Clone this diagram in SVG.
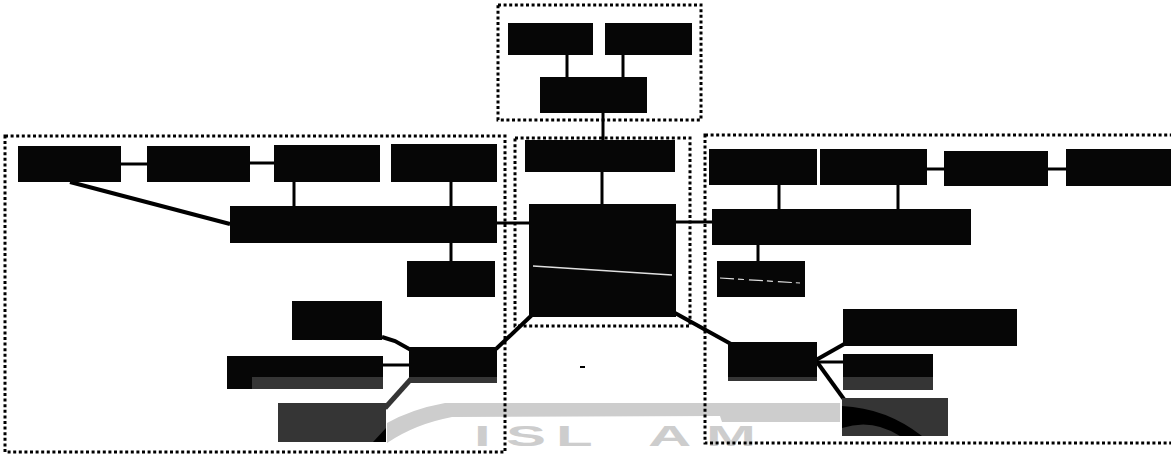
<svg xmlns="http://www.w3.org/2000/svg" width="1171" height="454" viewBox="0 0 1171 454">
<style>
.frame{fill:none;stroke:#000;stroke-width:3;stroke-dasharray:3 2.6}
.box{fill:#060606}
.strip{fill:#353535}
.gbox{fill:#353535}
.ln{stroke:#000;stroke-width:3;fill:none}
.thick{stroke:#000;stroke-width:4;fill:none}
.wm{fill:#cdcdcd}
.wmt{fill:#cdcdcd;font-family:"Liberation Sans",Arial,sans-serif;font-weight:bold;font-size:30px}
</style>
<rect width="1171" height="454" fill="#fff"/>
<g id="watermark">
<path class="wm" d="M387,423 Q412,409 445,403 L840,403 L840,422 L722,422 L720,416 L452,417 Q415,424 387,443 Z"/>
<g transform="scale(2,1)">
<text class="wmt" x="237" y="446">I</text>
<text class="wmt" x="253" y="446">S</text>
<text class="wmt" x="278" y="446">L</text>
<text class="wmt" x="324" y="446">A</text>
<text class="wmt" x="353" y="446">M</text>
</g>
</g>
<g id="frames">
<rect class="frame" x="498" y="5" width="203" height="115"/>
<rect class="frame" x="5" y="136" width="500" height="316"/>
<rect class="frame" x="515" y="138" width="175" height="188"/>
<rect class="frame" x="705" y="135" width="480" height="308"/>
</g>
<g id="connectors">
<line class="ln" x1="567" y1="55" x2="567" y2="77"/>
<line class="ln" x1="623" y1="55" x2="623" y2="77"/>
<line class="ln" x1="603" y1="113" x2="603" y2="140"/>
<line class="ln" x1="602" y1="172" x2="602" y2="204"/>
<line class="ln" x1="121" y1="164" x2="147" y2="164"/>
<line class="ln" x1="250" y1="163" x2="274" y2="163"/>
<line class="ln" x1="294" y1="182" x2="294" y2="206"/>
<line class="ln" x1="451" y1="182" x2="451" y2="206"/>
<line class="thick" x1="70" y1="182" x2="230" y2="224"/>
<line class="ln" x1="451" y1="243" x2="451" y2="261"/>
<line class="ln" x1="497" y1="223" x2="529" y2="223"/>
<polyline class="thick" points="382,337 395,341 411,350"/>
<line class="ln" x1="383" y1="365" x2="409" y2="365"/>
<line x1="385" y1="408" x2="411" y2="379" stroke="#353535" stroke-width="5"/>
<line class="thick" x1="496" y1="349" x2="533" y2="314"/>
<line class="ln" x1="676" y1="222" x2="712" y2="222"/>
<line class="ln" x1="779" y1="185" x2="779" y2="209"/>
<line class="ln" x1="898" y1="185" x2="898" y2="209"/>
<line class="ln" x1="927" y1="169" x2="944" y2="169"/>
<line class="ln" x1="1048" y1="169" x2="1066" y2="169"/>
<line class="ln" x1="758" y1="245" x2="758" y2="261"/>
<line class="thick" x1="675" y1="313" x2="731" y2="344"/>
<line class="thick" x1="816" y1="360" x2="846" y2="343"/>
<line class="ln" x1="817" y1="362" x2="843" y2="362"/>
<line class="thick" x1="817" y1="362" x2="846" y2="402"/>
<line x1="580" y1="367" x2="585" y2="367" stroke="#000" stroke-width="2"/>
</g>
<g id="n-t1"><rect class="box" x="508" y="23" width="85" height="32"/></g>
<g id="n-t2"><rect class="box" x="605" y="23" width="87" height="32"/></g>
<g id="n-t3"><rect class="box" x="540" y="77" width="107" height="36"/></g>
<g id="n-c1"><rect class="box" x="525" y="140" width="150" height="32"/></g>
<g id="n-c2"><rect class="box" x="529" y="204" width="147" height="113"/>
<line x1="533" y1="266" x2="672" y2="275" stroke="#e0e0e0" stroke-width="1.5"/></g>
<g id="n-l1"><rect class="box" x="18" y="146" width="103" height="36"/></g>
<g id="n-l2"><rect class="box" x="147" y="146" width="103" height="36"/></g>
<g id="n-l3"><rect class="box" x="274" y="145" width="106" height="37"/></g>
<g id="n-l4"><rect class="box" x="391" y="144" width="106" height="38"/></g>
<g id="n-lbig"><rect class="box" x="230" y="206" width="267" height="37"/></g>
<g id="n-ls"><rect class="box" x="407" y="261" width="88" height="36"/></g>
<g id="n-la"><rect class="box" x="292" y="301" width="90" height="39"/></g>
<g id="n-lb"><rect class="box" x="227" y="356" width="156" height="33"/><rect class="strip" x="252" y="377" width="131" height="12"/></g>
<g id="n-lc"><rect class="gbox" x="278" y="403" width="108" height="39"/><path d="M373,442 L386,428 L386,442 Z" fill="#000"/></g>
<g id="n-lhub"><rect class="box" x="409" y="347" width="88" height="36"/><rect class="strip" x="409" y="377" width="88" height="6"/></g>
<g id="n-r1"><rect class="box" x="709" y="149" width="108" height="36"/></g>
<g id="n-r2"><rect class="box" x="820" y="149" width="107" height="36"/></g>
<g id="n-r3"><rect class="box" x="944" y="151" width="104" height="35"/></g>
<g id="n-r4"><rect class="box" x="1066" y="149" width="110" height="37"/></g>
<g id="n-rbig"><rect class="box" x="712" y="209" width="259" height="36"/></g>
<g id="n-rs"><rect class="box" x="717" y="261" width="88" height="36"/>
<line x1="720" y1="278" x2="800" y2="283" stroke="#e0e0e0" stroke-width="1.2" stroke-dasharray="14 4 6 5"/></g>
<g id="n-ra"><rect class="box" x="843" y="309" width="174" height="37"/></g>
<g id="n-rb"><rect class="box" x="843" y="354" width="90" height="36"/><rect class="strip" x="843" y="377" width="90" height="13"/></g>
<g id="n-rc"><rect class="gbox" x="842" y="398" width="106" height="38"/><path d="M842,406 Q886,408 922,436 L900,436 Q872,418 842,428 Z" fill="#000"/></g>
<g id="n-rhub"><rect class="box" x="728" y="342" width="89" height="39"/><rect class="strip" x="728" y="377" width="89" height="4"/></g>
</svg>
